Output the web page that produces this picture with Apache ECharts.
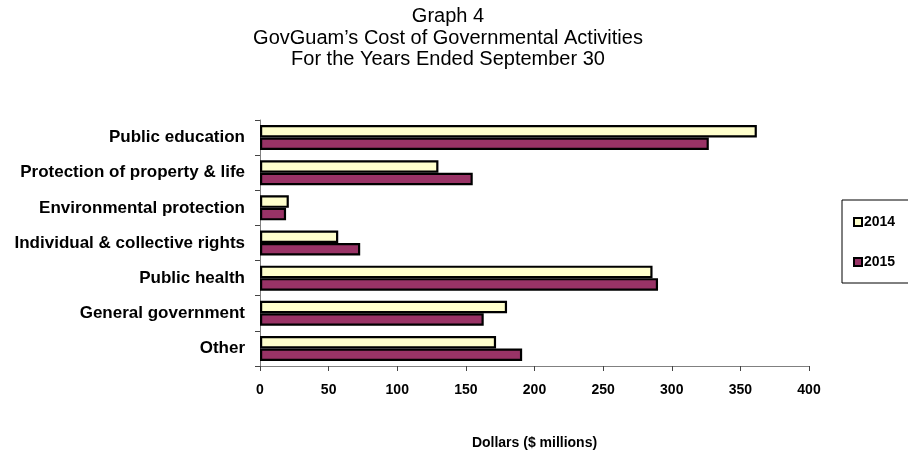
<!DOCTYPE html>
<html>
<head>
<meta charset="utf-8">
<script src="https://cdn.jsdelivr.net/npm/echarts@6/dist/echarts.min.js"></script>
<style>
html,body{margin:0;padding:0;background:#fff;}
#chart{width:908px;height:455px;}
</style>
</head>
<body>
<div id="chart"></div>
<script>
var titleLines = ['Graph 4', 'GovGuam\u2019s Cost of Governmental Activities', 'For the Years Ended September 30'];
var categories = ['Public education', 'Protection of property & life', 'Environmental protection', 'Individual & collective rights', 'Public health', 'General government', 'Other'];
var seriesNames = ['2014', '2015'];
var values2014 = [362, 130, 21, 57, 286, 180, 172];
var values2015 = [327, 155, 19, 73, 290, 163, 191];
var xTicks = [0, 50, 100, 150, 200, 250, 300, 350, 400];
var xAxisName = 'Dollars ($ millions)';

var chart = echarts.init(document.getElementById('chart'), null, {renderer: 'canvas'});
var font = 'Liberation Sans, Arial, sans-serif';
var axisGrey = '#808080';

var option = {
  animation: false,
  backgroundColor: '#ffffff',
  title: {
    text: titleLines.join('\n'),
    left: 443,
    textAlign: 'center',
    top: 1,
    textStyle: {fontFamily: font, fontSize: 20, fontWeight: 'normal', color: '#000', lineHeight: 21.5}
  },
  legend: {
    orient: 'vertical',
    left: 842,
    top: 200,
    padding: [15, 30, 14, 11],
    itemGap: 26,
    itemWidth: 8,
    itemHeight: 8,
    icon: 'rect',
    borderColor: '#000',
    borderWidth: 1,
    data: seriesNames,
    textStyle: {fontFamily: font, fontSize: 14, fontWeight: 'bold', color: '#000', padding: [0, 0, 0, -3]}
  },
  grid: {left: 260, right: 99, top: 120, bottom: 84.3, containLabel: false},
  xAxis: {
    type: 'value',
    min: xTicks[0],
    max: xTicks[xTicks.length - 1],
    interval: xTicks[1] - xTicks[0],
    name: xAxisName,
    nameLocation: 'middle',
    nameGap: 70,
    nameTextStyle: {fontFamily: font, fontSize: 14, fontWeight: 'bold', color: '#000'},
    axisLine: {show: true, lineStyle: {color: axisGrey, width: 1}},
    axisTick: {show: true, length: 5, lineStyle: {color: '#444'}},
    axisLabel: {fontFamily: font, fontSize: 14, fontWeight: 'bold', color: '#000', margin: 17},
    splitLine: {show: false}
  },
  yAxis: {
    type: 'category',
    inverse: true,
    data: categories,
    axisLine: {show: true, lineStyle: {color: axisGrey, width: 1}},
    axisTick: {show: true, length: 5, lineStyle: {color: '#444'}},
    axisLabel: {fontFamily: font, fontSize: 17, fontWeight: 'bold', color: '#000', margin: 15}
  },
  series: [
    {
      name: seriesNames[0],
      type: 'bar',
      data: values2014,
      barWidth: 12.5,
      barGap: '0%',
      itemStyle: {color: '#FFFFCC', borderColor: '#000', borderWidth: 2.2}
    },
    {
      name: seriesNames[1],
      type: 'bar',
      data: values2015,
      barWidth: 12.5,
      barGap: '0%',
      itemStyle: {color: '#993366', borderColor: '#000', borderWidth: 2.2}
    }
  ]
};
chart.setOption(option);
</script>
</body>
</html>
